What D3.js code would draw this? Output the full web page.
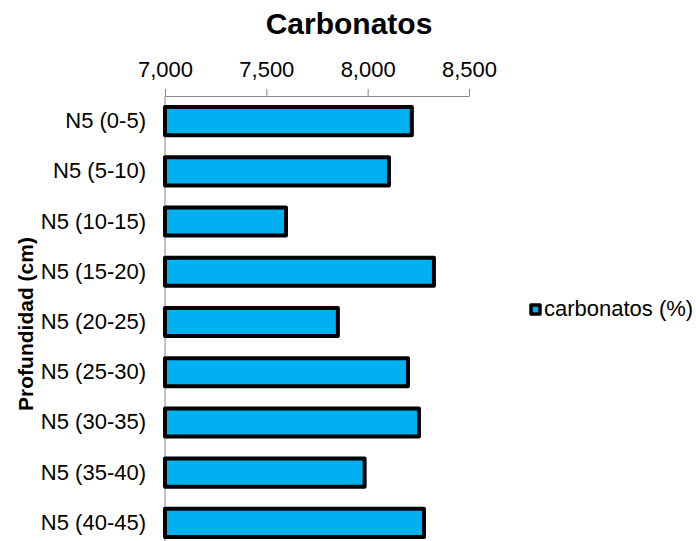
<!DOCTYPE html>
<html>
<head>
<meta charset="utf-8">
<script src="https://cdn.jsdelivr.net/npm/d3@7/dist/d3.min.js"></script>
<style>
  html, body { margin: 0; padding: 0; background: #fff; }
  svg { display: block; font-family: "Liberation Sans", Arial, sans-serif; }
</style>
</head>
<body>
<svg id="chart" width="696" height="541"></svg>
<script>
// Depth intervals (top to bottom) and carbonate values
const categories = ["N5 (0-5)", "N5 (5-10)", "N5 (10-15)", "N5 (15-20)", "N5 (20-25)",
                    "N5 (25-30)", "N5 (30-35)", "N5 (35-40)", "N5 (40-45)"];
const carbonatos = [8218, 8105, 7597, 8327, 7853, 8199, 8253, 7985, 8278];
const xTicks = [7000, 7500, 8000, 8500];
const seriesName = "carbonatos (%)";
const chartTitle = "Carbonatos";
const yTitle = "Profundidad (cm)";

const svg = d3.select("#chart");
const fill = "#00B0F0";
const axisColor = "#868686";
const labelFont = "Liberation Sans, Arial, sans-serif";

const x = d3.scaleLinear().domain([7000, 8500]).range([165, 469]);
const y = d3.scaleBand().domain(categories).range([96, 548])
  .paddingInner(0.44).paddingOuter(0.22);

// Title
svg.append("text")
  .attr("x", 349).attr("y", 34)
  .attr("text-anchor", "middle")
  .attr("font-size", 30).attr("font-weight", "bold")
  .text(chartTitle);

// Value axis on top
const xAxis = d3.axisTop(x).tickValues(xTicks)
  .tickFormat(d3.format(",")).tickSizeInner(7).tickSizeOuter(0).tickPadding(12);
const gx = svg.append("g").attr("transform", "translate(0,96)").call(xAxis);
gx.select(".domain").attr("stroke", axisColor).attr("stroke-width", 1);
gx.selectAll(".tick line").attr("stroke", axisColor);
gx.selectAll(".tick text").attr("font-size", 22).attr("fill", "#000")
  .attr("font-family", labelFont);

// Category axis on the left
const yAxis = d3.axisLeft(y).tickSize(0).tickPadding(19);
const gy = svg.append("g").attr("transform", "translate(165,0)").call(yAxis);
gy.select(".domain").remove();
gy.append("line").attr("x1", 0).attr("x2", 0).attr("y1", 96).attr("y2", 548)
  .attr("stroke", axisColor).attr("stroke-width", 1);
gy.selectAll(".tick text").attr("font-size", 22).attr("fill", "#000")
  .attr("font-family", labelFont);

// Bars
svg.append("g").selectAll("rect").data(categories).join("rect")
  .attr("x", x(7000))
  .attr("y", d => y(d))
  .attr("width", (d, i) => x(carbonatos[i]) - x(7000))
  .attr("height", y.bandwidth())
  .attr("fill", fill)
  .attr("stroke", "#000")
  .attr("stroke-width", 4)
  .attr("stroke-linejoin", "round");

// Y axis title
svg.append("text")
  .attr("transform", "translate(33,324) rotate(-90)")
  .attr("text-anchor", "middle")
  .attr("font-size", 21).attr("font-weight", "bold")
  .text(yTitle);

// Legend
const lg = svg.append("g");
lg.append("rect").attr("x", 531).attr("y", 305).attr("width", 9).attr("height", 9)
  .attr("fill", fill).attr("stroke", "#000").attr("stroke-width", 3.5)
  .attr("stroke-linejoin", "round");
lg.append("text").attr("x", 544).attr("y", 316)
  .attr("font-size", 22).text(seriesName);
</script>
</body>
</html>
